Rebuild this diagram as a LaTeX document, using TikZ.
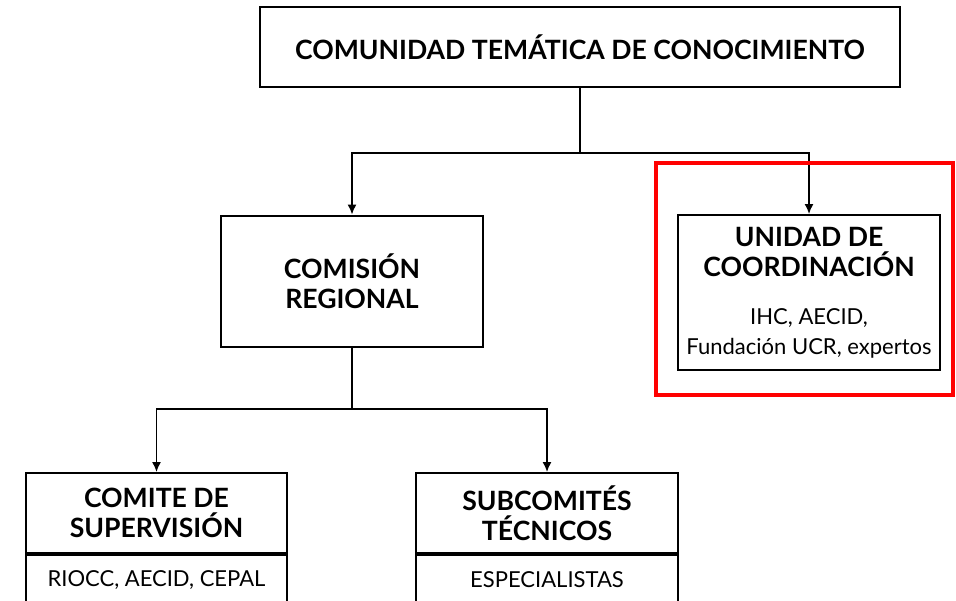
\documentclass[tikz,border=0pt]{standalone}
\usepackage{fontspec}
\setmainfont{Lato}
\usetikzlibrary{arrows.meta,positioning}
\tikzset{box/.style={draw, line width=1pt, align=center, inner sep=2pt},
         head/.style={font=\fontsize{13.3}{15}\selectfont\bfseries},
         body/.style={font=\fontsize{11}{15}\selectfont},
         link/.style={line width=0.75pt},
         arr/.style={link, -{Latex[length=5pt,width=4.5pt]}}}

\begin{document}
\begin{tikzpicture}
    \useasboundingbox (0pt,0pt) rectangle (478pt,-300pt);
    % top level
    \node[box,head,minimum width=320pt,minimum height=40pt] (comunidad) at (290pt,-23.5pt)
        {COMUNIDAD TEMÁTICA DE CONOCIMIENTO};
    % second level
    \node[box,head,minimum width=131pt,minimum height=65.5pt] (comision) at (176pt,-140.5pt)
        {COMISIÓN\\REGIONAL};
    \node[box,head,minimum width=131pt,minimum height=77.5pt] (unidad) at (404.5pt,-146.25pt)
        {UNIDAD DE\\COORDINACIÓN\\[9pt]
         \fontsize{11}{15}\selectfont\mdseries IHC, AECID,\\
         \fontsize{11}{15}\selectfont\mdseries Fundación UCR, expertos};
    % third level
    \node[box,head,minimum width=130.5pt,minimum height=40pt] (comite) at (78.25pt,-256.5pt)
        {COMITE DE\\SUPERVISIÓN};
    \node[box,body,minimum width=130.5pt,minimum height=25pt,anchor=north] (comiteb) at (comite.south)
        {RIOCC, AECID, CEPAL};
    \node[box,head,minimum width=131pt,minimum height=40pt] (subcom) at (273.5pt,-256.5pt)
        {SUBCOMITÉS\\TÉCNICOS};
    \node[box,body,minimum width=131pt,minimum height=25pt,anchor=north] (subcomb) at (subcom.south)
        {ESPECIALISTAS};

    % connectors
    \coordinate (split1) at (comunidad.south |- 0,-76.5pt);
    \coordinate (split2) at (comision.south |- 0,-204.5pt);
    \draw[link] (comunidad.south) -- (split1);
    \draw[arr] (split1) -| (comision.north);
    \draw[arr] (split1) -| (unidad.north);
    \draw[link] (comision.south) -- (split2);
    \draw[arr] (split2) -| (comite.north);
    \draw[arr] (split2) -| (subcom.north);

    % highlight
    \draw[red, line width=2pt] (328pt,-81.5pt) rectangle (476.5pt,-197.5pt);
\end{tikzpicture}
\end{document}
